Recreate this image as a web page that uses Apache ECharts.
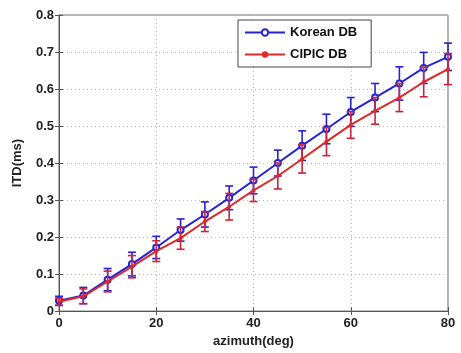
<!DOCTYPE html>
<html>
<head>
<meta charset="utf-8">
<script src="https://cdn.jsdelivr.net/npm/echarts@6/dist/echarts.min.js"></script>
<style>
html,body{margin:0;padding:0;background:#fff;}
#chart{width:461px;height:353px;}
</style>
</head>
<body>
<div id="chart"></div>
<script>
const azimuth = [0,5,10,15,20,25,30,35,40,45,50,55,60,65,70,75,80];
const koreanMean = [0.028,0.042,0.085,0.127,0.172,0.219,0.261,0.306,0.353,0.400,0.447,0.492,0.538,0.577,0.615,0.657,0.687];
const koreanErr  = [0.012,0.022,0.030,0.032,0.030,0.030,0.034,0.032,0.036,0.035,0.040,0.040,0.039,0.038,0.045,0.042,0.037];
const cipicMean  = [0.025,0.040,0.080,0.120,0.162,0.197,0.242,0.282,0.326,0.365,0.411,0.458,0.503,0.541,0.577,0.619,0.654];
const cipicErr   = [0.010,0.020,0.028,0.030,0.028,0.030,0.027,0.036,0.030,0.035,0.038,0.038,0.036,0.036,0.038,0.040,0.042];
const yTicks = [0,0.1,0.2,0.3,0.4,0.5,0.6,0.7,0.8];
const xTicks = [0,20,40,60,80];

const blue = '#2424d6';
const red = '#e02828';
const redBar = '#c8243c';
const font = '"Liberation Sans", Arial, sans-serif';

function errData(mean, err){
  return azimuth.map((a,i)=>[a, mean[i]-err[i], mean[i]+err[i]]);
}
function errRender(color){
  return function(params, api){
    const x = api.value(0);
    const lo = api.coord([x, api.value(1)]);
    const hi = api.coord([x, api.value(2)]);
    const w = 4;
    const style = {stroke: color, lineWidth: 1.6};
    return {type:'group', children:[
      {type:'line', shape:{x1:lo[0],y1:lo[1],x2:hi[0],y2:hi[1]}, style},
      {type:'line', shape:{x1:lo[0]-w,y1:lo[1],x2:lo[0]+w,y2:lo[1]}, style},
      {type:'line', shape:{x1:hi[0]-w,y1:hi[1],x2:hi[0]+w,y2:hi[1]}, style}
    ]};
  };
}

const chart = echarts.init(document.getElementById('chart'), null, {renderer:'canvas'});
const axisLabelStyle = {fontFamily: font, fontWeight:'bold', fontSize:13, color:'#222'};
chart.setOption({
  animation:false,
  backgroundColor:'#fff',
  grid:{left:59, right:13, top:15, bottom:40, show:true, borderColor:'#666', borderWidth:1, backgroundColor:'#fff'},
  legend:{
    orient:'vertical', left:238, top:20, itemWidth:40, itemHeight:8, itemGap:9,
    padding:[6,14,6,6], borderColor:'#444', borderWidth:1, backgroundColor:'#fff',
    textStyle:{fontFamily:font, fontWeight:'bold', fontSize:13, color:'#111'},
    data:['Korean DB','CIPIC DB']
  },
  xAxis:[{
    type:'value', min:xTicks[0], max:xTicks[xTicks.length-1], interval:20,
    name:'azimuth(deg)', nameLocation:'middle', nameGap:22,
    nameTextStyle:{fontFamily:font, fontWeight:'bold', fontSize:13, color:'#222'},
    axisLine:{show:true, lineStyle:{color:'#555', width:1}},
    axisTick:{show:true, inside:true, length:4, lineStyle:{color:'#555'}},
    axisLabel:Object.assign({margin:6}, axisLabelStyle),
    splitLine:{show:true, lineStyle:{color:'#bbb', type:[1,3], width:1}}
  },{
    type:'value', position:'top', min:0, max:80, interval:20,
    axisLine:{show:false}, axisTick:{show:true, inside:true, length:4, lineStyle:{color:'#555'}},
    axisLabel:{show:false}, splitLine:{show:false}
  }],
  yAxis:[{
    type:'value', min:yTicks[0], max:yTicks[yTicks.length-1], interval:0.1,
    name:'ITD(ms)', nameLocation:'middle', nameGap:35,
    nameTextStyle:{fontFamily:font, fontWeight:'bold', fontSize:13, color:'#222'},
    axisLine:{show:true, lineStyle:{color:'#555', width:1}},
    axisTick:{show:true, inside:true, length:4, lineStyle:{color:'#555'}},
    axisLabel:Object.assign({margin:5, formatter:v=> v===0 ? '0' : v.toFixed(1)}, axisLabelStyle),
    splitLine:{show:true, lineStyle:{color:'#bbb', type:[1,3], width:1}}
  },{
    type:'value', position:'right', min:0, max:0.8, interval:0.1,
    axisLine:{show:false}, axisTick:{show:true, inside:true, length:4, lineStyle:{color:'#555'}},
    axisLabel:{show:false}, splitLine:{show:false}
  }],
  series:[
    {type:'custom', name:'Korean DB err', renderItem:errRender(blue), data:errData(koreanMean,koreanErr), z:3, silent:true},
    {type:'line', name:'Korean DB', data:azimuth.map((a,i)=>[a,koreanMean[i]]), color:blue,
     lineStyle:{color:blue, width:2}, symbol:'emptyCircle', symbolSize:6, itemStyle:{color:blue, borderColor:blue, borderWidth:1.5}, z:4},
    {type:'custom', name:'CIPIC DB err', renderItem:errRender(redBar), data:errData(cipicMean,cipicErr), z:5, silent:true},
    {type:'line', name:'CIPIC DB', data:azimuth.map((a,i)=>[a,cipicMean[i]]), color:red,
     lineStyle:{color:red, width:2}, symbol:'circle', symbolSize:4, itemStyle:{color:red}, z:6}
  ]
});
</script>
</body>
</html>
